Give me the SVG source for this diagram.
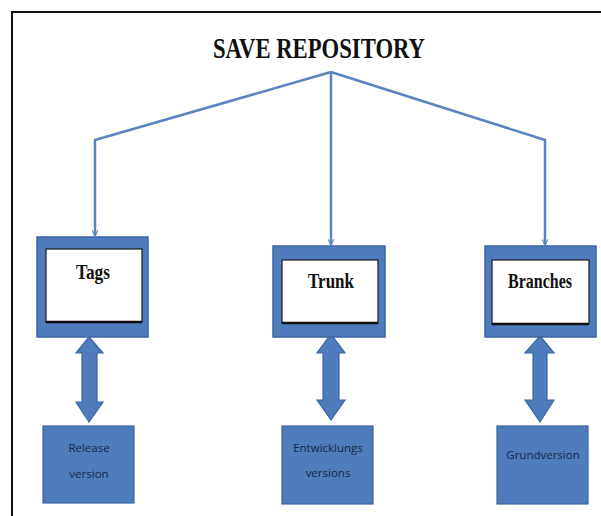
<svg xmlns="http://www.w3.org/2000/svg" width="601" height="516" viewBox="0 0 601 516">
<defs>
<style>
.frame{stroke:#111;stroke-width:2;fill:none}
.conn{stroke:#5b84bf;stroke-width:2.5;fill:none}
.outer{fill:#4f7cbd;stroke:#3d64a0;stroke-width:1.5}
.inner{fill:#fff;stroke:#1a1a1a;stroke-width:1.2}
.dbl{fill:#4f7cbd;stroke:#3d64a0;stroke-width:1.2}
.leaf{fill:#4f7cbd;stroke:#3d64a0;stroke-width:1.2}
.title{font-family:"Liberation Serif","Times New Roman",serif;font-weight:bold;fill:#111}
.lbl{font-family:"Liberation Serif","Times New Roman",serif;font-weight:bold;font-size:21px;fill:#111;text-anchor:middle}
.sub{font-family:"Open Sans","Liberation Sans",sans-serif;font-size:11.5px;fill:#16284a;text-anchor:middle}
</style>
<marker id="arr" viewBox="0 0 10 10" refX="9" refY="5" markerWidth="7" markerHeight="7" orient="auto" markerUnits="userSpaceOnUse">
<path d="M1,1 L9,5 L1,9" fill="none" stroke="#5b84bf" stroke-width="1.6"/>
</marker>
</defs>
<rect width="601" height="516" fill="#fff"/>
<path class="frame" d="M12,516 L12,12 L601,12"/>
<text class="title" x="319" y="58" font-size="29" text-anchor="middle" textLength="212" lengthAdjust="spacingAndGlyphs">SAVE REPOSITORY</text>
<g id="connectors">
<path class="conn" d="M331,72 L95,140 L95,236" marker-end="url(#arr)"/>
<path class="conn" d="M331,72 L331,245" marker-end="url(#arr)"/>
<path class="conn" d="M331,72 L545,140 L545,245" marker-end="url(#arr)"/>
<path class="dbl" d="M89,337 L103,353 L97,353 L97,402 L103,402 L89,422 L76,402 L82,402 L82,353 L76,353 Z"/>
<path class="dbl" d="M331,334 L345,353 L339,353 L339,400 L345,400 L331,420 L317,400 L323,400 L323,353 L317,353 Z"/>
<path class="dbl" d="M540,336 L554,353 L547,353 L547,400 L554,400 L540,422 L525,400 L533,400 L533,353 L525,353 Z"/>
</g>
<g id="tags">
<rect class="outer" x="37" y="237" width="111" height="100"/>
<rect class="inner" x="46" y="249" width="96" height="73"/>
<line x1="46" y1="322" x2="142" y2="322" stroke="#111" stroke-width="2.5"/>
<text class="lbl" x="93" y="279" textLength="34" lengthAdjust="spacingAndGlyphs">Tags</text>
</g>
<g id="trunk">
<rect class="outer" x="273" y="246" width="112" height="91"/>
<rect class="inner" x="282" y="260" width="96" height="63"/>
<line x1="282" y1="323" x2="378" y2="323" stroke="#111" stroke-width="2.5"/>
<text class="lbl" x="331" y="288" textLength="46" lengthAdjust="spacingAndGlyphs">Trunk</text>
</g>
<g id="branches">
<rect class="outer" x="485" y="246" width="111" height="91"/>
<rect class="inner" x="492" y="260" width="97" height="64"/>
<line x1="492" y1="324" x2="589" y2="324" stroke="#111" stroke-width="2.5"/>
<text class="lbl" x="540" y="288" textLength="64" lengthAdjust="spacingAndGlyphs">Branches</text>
</g>
<g id="release">
<rect class="leaf" x="43" y="426" width="91" height="77"/>
<text class="sub" x="89" y="452">Release</text>
<text class="sub" x="89" y="478">version</text>
</g>
<g id="entwicklung">
<rect class="leaf" x="282" y="426" width="91" height="78"/>
<text class="sub" x="328" y="452">Entwicklungs</text>
<text class="sub" x="328" y="477">versions</text>
</g>
<g id="grund">
<rect class="leaf" x="497" y="426" width="91" height="78"/>
<text class="sub" x="543" y="459">Grundversion</text>
</g>
</svg>
